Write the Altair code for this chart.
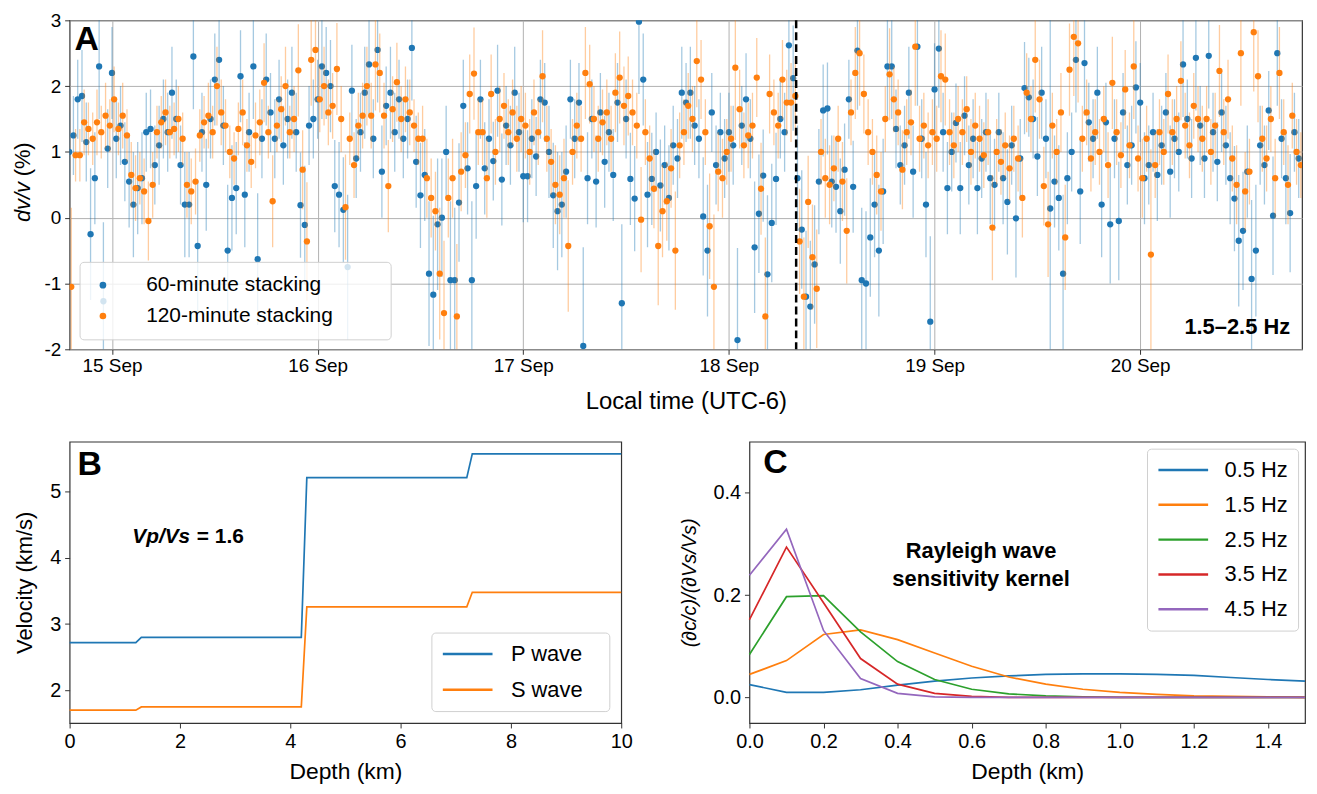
import altair as alt
import pandas as pd

# ---------------- colours / font ----------------
C_BLUE, C_ORANGE, C_GREEN, C_RED, C_PURPLE = "#1f77b4", "#ff7f0e", "#2ca02c", "#d62728", "#9467bd"
FONT = "Liberation Sans"

# ---------------- Panel A : dv/v time series ----------------
DAY_LABELS = ["15 Sep", "16 Sep", "17 Sep", "18 Sep", "19 Sep", "20 Sep"]
DAY_TICKS = [0, 1, 2, 3, 4, 5]                 # days after 15 Sep 00:00
X_START, X_END = -0.206, 5.787                 # axis limits (days)
T0 = -5 / 24                                   # first sample: 14 Sep 19:00
STEP = 1 / 48                                  # 30-minute sampling
ORANGE_SHIFT = 1 / 96                          # 120-min series offset 15 min
EVENT_T = [3.327]                              # dashed line, 18 Sep ~07:50
LBL60, LBL120 = "60-minute stacking", "120-minute stacking"

# dv/v (%) values, 24 per row (12 h per row, starting 14 Sep 19:00)
BLUE_60 = [
    [1.0, 1.25, 1.8, 1.85, 1.15, -0.25, 0.6, 2.3, -1.27, 1.05, 2.2, 1.2, 1.4, 0.85, 0.55, 0.2, 0.45, 0.6, 1.3, 1.35, 0.8, 1.1, 1.5, 1.3],
    [1.9, 1.5, 0.8, 0.2, 0.2, 2.45, -0.43, 1.3, 0.5, 1.5, 2.1, 2.4, 1.4, -0.5, 0.3, 0.45, 2.15, 0.35, 1.3, 2.3, -0.63, 1.2, 2.1, 1.6],
    [1.2, 1.8, 1.1, 1.5, 1.9, 1.3, 0.19, -0.11, 1.4, 1.5, 1.8, 2.3, 2.2, 2.0, 0.48, 0.35, 0.12, -0.75, 1.93, 0.9, 1.3, 1.9, 2.33, 1.2],
    [2.55, 0.7, 1.7, 1.9, 1.3, 1.8, 1.2, 1.5, 2.58, 0.85, 0.34, 0.65, -0.85, -1.17, -0.1, 0.0, 1.0, -0.95, -0.95, 0.23, 1.7, 0.75, -0.95, 0.48],
    [1.8, 0.75, 1.2, 0.86, 1.93, 0.58, 1.4, 1.1, 1.9, 1.3, 0.63, 0.63, 1.2, 0.93, 1.8, 1.75, 1.0, 0.34, 0.1, 0.2, 0.7, 1.8, 1.2, 1.75],
    [-1.95, 0.6, 1.5, 0.55, 1.6, 0.85, 1.3, 0.65, 1.75, -1.3, 1.5, 0.59, 0.29, 2.98, 2.1, 0.35, 0.59, 1.0, 0.49, 0.8, 0.3, 1.1, 0.9, 1.9],
    [1.75, 1.9, 1.4, 1.2, 0.02, -0.5, 1.6, 0.8, 1.3, 0.9, 1.3, 1.1, -1.86, 1.4, 1.8, 1.2, -0.45, 0.06, 0.64, -0.86, -0.08, 0.59, 1.5, 1.3],
    [2.62, 2.12, 0.6, -0.18, -1.2, -1.35, -0.71, 0.55, 1.63, 1.66, 0.55, 0.47, 0.1, 0.73, 1.8, 0.47, 2.54, -0.95, -1.0, -0.3, 0.2, -0.5, 0.4, 2.3],
    [2.3, 1.35, 0.8, 1.1, 1.9, 0.7, 2.6, 1.2, 0.2, -1.58, 1.95, 2.57, 1.3, 0.45, 1.0, 1.44, 0.45, 1.55, 0.8, 1.2, 0.45, 0.9, 1.3, 0.6],
    [0.5, 1.3, 0.6, 0.24, 1.1, -0.01, 0.9, 1.97, 1.83, 1.5, 0.93, 1.9, 1.2, 0.14, 0.55, 0.3, -0.85, 0.6, 1.0, 2.4, 0.4, 2.35, 1.45, 1.2],
    [1.9, 0.2, 1.45, -0.1, 1.2, -0.05, 1.6, 0.8, 1.1, 1.98, 1.75, 0.6, 0.8, 1.3, 0.65, 1.1, 1.6, 0.7, 1.2, 1.0, 2.33, 1.5, 0.9, 2.43],
    [1.4, 0.9, 2.46, 1.3, 0.85, 1.6, 1.1, 0.6, 0.29, -0.35, -0.2, 0.7, -0.93, -0.5, 1.1, 0.8, 1.63, 0.03, 2.5, 1.2, 0.6, 0.07, 1.3, 0.9],
]
# error-bar half widths, one base-36 digit per point, in tenths of a percent
BLUE_60_ERR = [
    "66676A78C676667877666666",
    "766888A676786A877868A676",
    "66667689666877788B766786",
    "876766668787BCA97CB977C8",
    "676677667677666678987666",
    "F76767676C678B7876768667",
    "67669A666666E676A97C9766",
    "9889AA98777787679BB98A88",
    "866677968D79676676667667",
    "7678696766676U78C7688866",
    "786969666767667667668668",
    "668666678A97CA6669867966",
]
ORANGE_120 = [
    [-1.05, 0.95, 0.95, 1.45, 1.35, 1.2, 1.45, 1.3, 1.55, 1.4, 1.8, 1.35, 1.55, 1.25, 0.65, 0.45, 0.6, 0.4, -0.05, 0.5, 1.3, 1.45, 1.6, 1.3],
    [1.35, 1.5, 1.2, 0.5, 0.4, 0.55, 1.25, 1.45, 1.55, 1.3, 2.0, 1.6, 1.4, 1.0, 0.9, 1.35, 1.6, 1.1, 0.85, 1.25, 1.45, 2.05, 1.3, 0.25],
    [1.4, 1.65, 2.0, 1.3, 1.5, 2.24, 0.73, -0.36, 2.4, 2.55, 1.8, 2.0, 1.6, 1.7, 2.26, 1.5, 0.16, 1.2, 0.8, 1.4, 1.55, 2.0, 1.55, 2.33],
    [2.2, 1.55, 0.48, 1.65, 2.06, 1.5, 1.8, 1.6, 1.4, 1.2, 1.2, 0.6, 0.3, 0.1, -0.85, -1.45, 0.3, 0.6, -1.5, 0.7, 0.95, 1.88, 2.19, 1.3],
    [1.3, 0.6, 1.88, 1.0, 1.5, 1.7, 1.3, 1.6, 1.2, 1.5, 1.4, 1.0, 1.6, 1.3, 2.15, 1.2, 0.85, 0.5, 0.35, 0.6, -0.43, 1.0, 1.4, 1.2],
    [2.2, 2.03, 1.5, 1.2, 1.45, 1.6, 1.2, 1.9, 2.13, 1.7, 1.85, 1.6, 1.4, -0.03, 1.3, 0.9, 0.44, -0.43, 0.1, 0.25, 0.75, -0.5, 1.1, 1.3],
    [1.7, 1.5, 2.38, 2.1, 1.3, -0.13, -1.05, 0.7, 0.6, 1.0, 1.2, 2.28, 1.65, 1.1, 1.25, 1.4, 2.13, 0.44, -1.5, 1.88, 1.6, 1.4, 2.1, 1.75],
    [1.75, 1.85, -0.36, -1.2, 0.24, -0.6, -1.08, 1.0, 0.6, 0.5, 0.75, 1.2, 0.55, -0.2, 1.6, 2.2, 2.5, 1.88, 1.3, 1.0, 0.65, 0.4, 1.5, 2.18],
    [1.8, 1.6, 0.73, 1.3, 1.45, 2.6, 1.2, 1.4, 1.1, 1.3, 1.2, 2.15, 2.1, 1.3, 1.1, 1.5, 1.3, 1.65, 1.0, 1.4, 1.2, 0.95, 1.3, -0.15],
    [1.0, 0.85, 1.1, 0.75, 1.2, 0.9, 0.3, 1.9, 1.5, 2.4, 1.8, 0.48, -0.1, 1.4, 1.0, 1.6, -0.3, 2.25, 2.75, 2.65, 1.2, 1.6, 0.9, 1.3],
    [1.0, 1.5, 0.8, 2.05, 1.3, 0.95, 1.95, 1.1, 2.3, 0.9, 0.6, 1.2, -0.56, 0.8, 1.3, 1.0, 1.88, 1.3, 1.5, 2.08, 1.4, 1.1, 1.7, 1.5],
    [1.2, 1.5, 1.0, 1.4, 2.23, 1.3, 1.8, 0.9, 0.5, 2.5, 0.4, 0.7, 2.82, 2.15, 1.2, 0.9, 1.5, 0.6, 2.2, 1.3, 0.5, 1.55, 1.0, 0.8],
]
ORANGE_120_ERR = [
    "C44544545454545545654454",
    "454555445465444454455647",
    "456457697856557584555657",
    "65756555445666AB66B65675",
    "56655555555555755666A555",
    "765555567665585569766955",
    "557658B6655B655567C65565",
    "668978956655685786556657",
    "556559555557755555555558",
    "555555665866855687995555",
    "555755658565G55565565555",
    "555575656865975556756555",
]

# ---------------- Panel B : velocity model ----------------
B_DEPTH = [0.0, 1.2, 1.3, 4.2, 4.3, 7.2, 7.3, 10.0]
B_VP = [2.72, 2.72, 2.80, 2.80, 5.21, 5.21, 5.57, 5.57]
B_VS = [1.70, 1.70, 1.75, 1.75, 3.26, 3.26, 3.48, 3.48]
B_YLIM = [1.507, 5.753]

# ---------------- Panel C : sensitivity kernels ----------------
C_DEPTH = [0.0, 0.1, 0.2, 0.3, 0.4, 0.5, 0.6, 0.7, 0.8, 0.9, 1.0, 1.1, 1.2, 1.3, 1.4, 1.5]
C_FREQS = ["0.5 Hz", "1.5 Hz", "2.5 Hz", "3.5 Hz", "4.5 Hz"]
K_05 = [0.025, 0.010, 0.010, 0.015, 0.024, 0.032, 0.038, 0.042, 0.045, 0.046, 0.046, 0.045, 0.043, 0.039, 0.035, 0.032]
K_15 = [0.045, 0.072, 0.123, 0.132, 0.113, 0.087, 0.061, 0.040, 0.026, 0.016, 0.010, 0.006, 0.003, 0.002, 0.001, 0.000]
K_25 = [0.084, 0.197, 0.199, 0.128, 0.070, 0.035, 0.016, 0.007, 0.003, 0.001, 0.000, 0.000, 0.000, 0.000, 0.000, 0.000]
K_35 = [0.152, 0.294, 0.185, 0.076, 0.026, 0.008, 0.002, 0.000, 0.000, 0.000, 0.000, 0.000, 0.000, 0.000, 0.000, 0.000]
K_45 = [0.239, 0.329, 0.131, 0.037, 0.008, 0.001, 0.000, 0.000, 0.000, 0.000, 0.000, 0.000, 0.000, 0.000, 0.000, 0.000]


# ================= build tables =================
def series_table(rows, err_rows, label, shift):
    recs = []
    k = 0
    for i, (vals, errs) in enumerate(zip(rows, err_rows)):
        if len(vals) != len(errs):
            raise ValueError(f"{label}: row {i} has {len(vals)} values but {len(errs)} errors")
        for v, c in zip(vals, errs):
            e = int(c, 36) / 10
            recs.append({"t": T0 + k * STEP + shift, "v": v, "lo": v - e, "hi": v + e, "series": label})
            k += 1
    return recs


dfA = pd.DataFrame(series_table(BLUE_60, BLUE_60_ERR, LBL60, 0.0)
                   + series_table(ORANGE_120, ORANGE_120_ERR, LBL120, ORANGE_SHIFT))

dfB = pd.DataFrame(
    [{"depth": d, "vel": v, "wave": "P wave"} for d, v in zip(B_DEPTH, B_VP)]
    + [{"depth": d, "vel": v, "wave": "S wave"} for d, v in zip(B_DEPTH, B_VS)]
)

dfC = pd.DataFrame(
    [{"depth": d, "k": v, "freq": f}
     for f, ks in zip(C_FREQS, [K_05, K_15, K_25, K_35, K_45])
     for d, v in zip(C_DEPTH, ks)]
)

AX = dict(domain=False, tickColor="#333", labelColor="black", titleColor="black",
          titleFontWeight="normal", tickSize=5)
LINE_SYMBOL = "M-1,0H4"   # long horizontal legend handle
BLANK = "\u2800"          # blank glyph used to widen legend boxes

# ================= Panel A =================
WA, HA = 1240, 331
day_expr = "[" + ",".join(f"'{s}'" for s in DAY_LABELS) + "][datum.value]"

xA = alt.X("t:Q", scale=alt.Scale(domain=[X_START, X_END], nice=False, zero=False),
           axis=alt.Axis(values=DAY_TICKS, labelExpr=day_expr, title="Local time (UTC-6)",
                         grid=True, gridColor="#b0b0b0", gridWidth=1, labelFontSize=19,
                         titleFontSize=24, labelPadding=2, titlePadding=15, labelFlush=False,
                         **AX))
yScaleA = alt.Scale(domain=[-2, 3], nice=False, zero=False)
yAxisA = alt.Axis(values=[-2, -1, 0, 1, 2, 3], title=None, grid=True, gridColor="#b0b0b0",
                  gridWidth=1, labelFontSize=19, labelPadding=4,
                  labelExpr="datum.value < 0 ? '-' + abs(datum.value) : '' + datum.value", **AX)
colA = alt.Scale(domain=[LBL60, LBL120], range=[C_BLUE, C_ORANGE])

baseA = alt.Chart(dfA)


def err_layer(label, color):
    return baseA.transform_filter(alt.datum.series == label).mark_rule(
        clip=True, strokeWidth=1.3, opacity=0.4, color=color
    ).encode(x=xA, y=alt.Y("lo:Q", scale=yScaleA, axis=yAxisA), y2="hi:Q")


def pt_layer(label):
    return baseA.transform_filter(alt.datum.series == label).mark_circle(
        clip=True, size=40, opacity=1
    ).encode(
        x=xA, y=alt.Y("v:Q", scale=yScaleA, axis=yAxisA),
        color=alt.Color("series:N", scale=colA,
                        legend=alt.Legend(title=None, orient="bottom-left", offset=10,
                                          labelFontSize=21, symbolType="circle", symbolSize=45,
                                          fillColor="rgba(255,255,255,0.8)",
                                          strokeColor="#d0d0d0", cornerRadius=4, padding=13,
                                          rowPadding=9, labelOffset=33, labelColor="black",
                                          labelLimit=500,
                                          labelExpr=f"datum.label + '{BLANK * 3}'")),
    )


event = alt.Chart(pd.DataFrame({"t": EVENT_T})).mark_rule(
    color="black", strokeDash=[8, 4], strokeWidth=2.5
).encode(x=alt.X("t:Q", scale=alt.Scale(domain=[X_START, X_END], nice=False, zero=False)))

one = pd.DataFrame({"s": [""]})
txtA = alt.Chart(one).mark_text(text="A", fontSize=34, fontWeight="bold", align="left",
                                baseline="alphabetic", color="black").encode(
    x=alt.value(5), y=alt.value(30))
txtHz = alt.Chart(one).mark_text(text="1.5–2.5 Hz", fontSize=22, fontWeight="bold", align="right",
                                 baseline="alphabetic", color="black").encode(
    x=alt.value(WA - 12), y=alt.value(HA - 15))
ytitle1 = alt.Chart(one).mark_text(text="dv/v", fontSize=22, fontStyle="italic", angle=270,
                                   align="left", baseline="alphabetic", color="black").encode(
    x=alt.value(-40), y=alt.value(203))
ytitle2 = alt.Chart(one).mark_text(text="(%)", fontSize=22, angle=270,
                                   align="left", baseline="alphabetic", color="black").encode(
    x=alt.value(-40), y=alt.value(157))

panelA = alt.layer(
    err_layer(LBL60, C_BLUE), pt_layer(LBL60),
    err_layer(LBL120, C_ORANGE), pt_layer(LBL120),
    event, txtA, txtHz, ytitle1, ytitle2,
).properties(width=WA, height=HA)

# ================= Panel B =================
WB, HB = 555, 283
panelB_lines = alt.Chart(dfB).mark_line(strokeWidth=1.7).encode(
    x=alt.X("depth:Q", scale=alt.Scale(domain=[0, 10], nice=False, zero=False),
            axis=alt.Axis(values=[0, 2, 4, 6, 8, 10], title="Depth (km)", grid=False,
                          labelFontSize=20, titleFontSize=23, labelPadding=4, titlePadding=9,
                          labelFlush=False, **AX)),
    y=alt.Y("vel:Q", scale=alt.Scale(domain=B_YLIM, nice=False, zero=False),
            axis=alt.Axis(values=[2, 3, 4, 5], title="Velocity (km/s)", grid=False,
                          labelFontSize=20, titleFontSize=22, labelPadding=4, titlePadding=11,
                          minExtent=22, maxExtent=22, **AX)),
    color=alt.Color("wave:N", scale=alt.Scale(domain=["P wave", "S wave"], range=[C_BLUE, C_ORANGE]),
                    legend=alt.Legend(title=None, orient="bottom-right", offset=12,
                                      labelFontSize=22, symbolType=LINE_SYMBOL, symbolSize=400,
                                      symbolStrokeWidth=2.5, fillColor="white",
                                      strokeColor="#d0d0d0", cornerRadius=4, padding=10,
                                      rowPadding=13, labelOffset=47, labelColor="black",
                                      labelExpr=f"datum.label + '{BLANK}'")),
    order="depth:Q",
)
txtB = alt.Chart(one).mark_text(text="B", fontSize=34, fontWeight="bold", align="left",
                                baseline="alphabetic", color="black").encode(
    x=alt.value(8), y=alt.value(33))
txtVp = alt.Chart(one).mark_text(text="Vp/Vs", fontSize=21, fontWeight="bold", fontStyle="italic",
                                 align="left", baseline="alphabetic", color="black").encode(
    x=alt.value(63), y=alt.value(102))
txtVp2 = alt.Chart(one).mark_text(text="= 1.6", fontSize=21, fontWeight="bold",
                                  align="left", baseline="alphabetic", color="black").encode(
    x=alt.value(128), y=alt.value(102))
panelB = alt.layer(panelB_lines, txtB, txtVp, txtVp2).properties(width=WB, height=HB)

# ================= Panel C =================
WC, HC = 559, 283
panelC_lines = alt.Chart(dfC).mark_line(strokeWidth=1.7).encode(
    x=alt.X("depth:Q", scale=alt.Scale(domain=[0, 1.5], nice=False, zero=False),
            axis=alt.Axis(values=[0, 0.2, 0.4, 0.6, 0.8, 1.0, 1.2, 1.4], format=".1f",
                          title="Depth (km)", grid=False, labelFontSize=20, titleFontSize=23,
                          labelPadding=4, titlePadding=9, labelFlush=False, **AX)),
    y=alt.Y("k:Q", scale=alt.Scale(domain=[-0.05, 0.5], nice=False, zero=False),
            axis=alt.Axis(values=[0.0, 0.2, 0.4], format=".1f", title="(∂c/c)/(∂Vs/Vs)",
                          grid=False, labelFontSize=20, titleFontSize=20,
                          titleFontStyle="italic", labelPadding=4, titlePadding=14,
                          minExtent=36, maxExtent=36, **AX)),
    color=alt.Color("freq:N", scale=alt.Scale(domain=C_FREQS,
                                              range=[C_BLUE, C_ORANGE, C_GREEN, C_RED, C_PURPLE]),
                    legend=alt.Legend(title=None, orient="top-right", offset=7,
                                      labelFontSize=22, symbolType=LINE_SYMBOL, symbolSize=400,
                                      symbolStrokeWidth=2.5, fillColor="white",
                                      strokeColor="#d0d0d0", cornerRadius=4, padding=10,
                                      rowPadding=12, labelOffset=45, labelColor="black")),
    order="depth:Q",
)
txtC = alt.Chart(one).mark_text(text="C", fontSize=34, fontWeight="bold", align="left",
                                baseline="alphabetic", color="black").encode(
    x=alt.value(14), y=alt.value(31))
txtRay = alt.Chart(one).mark_text(text="Rayleigh wave\nsensitivity kernel", lineBreak="\n",
                                  lineHeight=28, fontSize=22, fontWeight="bold", align="center",
                                  baseline="alphabetic", color="black").encode(
    x=alt.value(233), y=alt.value(117))
panelC = alt.layer(panelC_lines, txtC, txtRay).properties(width=WC, height=HC)

bottom = alt.hconcat(panelB, panelC, spacing=46).resolve_scale(color="independent")

chart = alt.vconcat(panelA, bottom, spacing=26).resolve_scale(color="independent").properties(
    padding={"left": 3, "top": 0, "right": 0, "bottom": 0}
).configure(font=FONT).configure_view(stroke="#333333", strokeWidth=1.2).configure_axis(
    labelFont=FONT, titleFont=FONT
).configure_legend(labelFont=FONT)

chart.save("out.html", embed_options={"renderer": "svg", "actions": False})
